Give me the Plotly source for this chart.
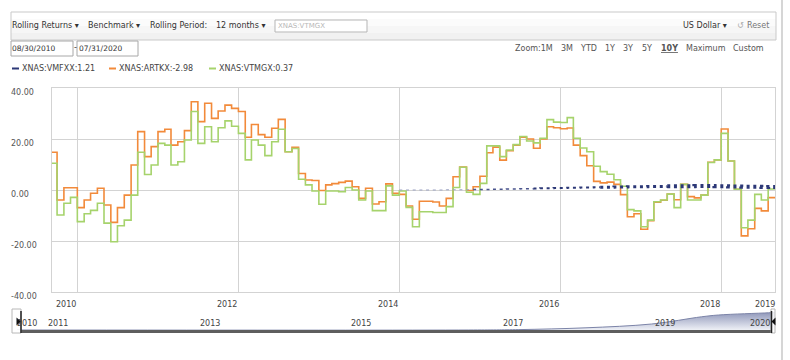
import plotly.graph_objects as go
import pandas as pd

W, H = 790, 360
FONT = "DejaVu Sans"
ORANGE = "#f28a3a"
GREEN = "#a6d36c"
NAVY = "#2c3877"
GRID = "#d3d3d3"
TXT = "#444444"

# ---------------- data ----------------
months = pd.date_range("2011-08-31", periods=108, freq=pd.offsets.MonthEnd())

artkx = [14.8, -3.9, 0.9, 0.9, -6.9, -3.9, -1.3, 0.7, -5.9, -12.7,
         -6.9, -2.0, 9.8, 22.9, 13.1, 17.0, 22.9, 23.8, 17.6, 18.9,
         23.3, 34.6, 26.8, 34.0, 28.1, 31.0, 33.3, 32.0, 30.8, 20.7,
         25.7, 21.7, 20.7, 24.2, 27.7, 15.0, 16.7, 6.5, 3.9, 3.7,
         -0.2, 2.0, 2.5, 3.0, 3.5, 1.3, -3.3, 0.7, -5.5, -4.6,
         2.4, -1.3, -1.7, -6.3, -11.5, -4.4, -4.4, -4.7, -6.3, -3.3,
         5.2, 9.0, -0.2, 1.3, 5.4, 14.6, 16.8, 11.7, 15.4, 17.6,
         20.7, 20.0, 16.4, 20.0, 24.8, 24.4, 24.0, 24.3, 17.6, 13.5,
         9.5, 3.4, 2.8, 3.1, 2.2, -1.8, -10.5, -9.3, -15.4, -12.0,
         -4.8, -4.0, -1.6, -3.8, 2.2, -2.6, -3.1, -2.0, 10.9, 11.8,
         23.9, 11.4, 0.3, -18.0, -15.2, -7.2, -8.2, -2.98]

vtmgx = [10.5, -9.8, -5.2, -2.9, -12.4, -9.3, -8.0, -5.2, -13.0, -20.3,
         -14.0, -11.8, -2.0, 14.8, 6.1, 9.8, 18.3, 17.6, 9.8, 11.1,
         19.6, 30.8, 18.3, 24.8, 18.9, 24.4, 27.1, 25.0, 22.2, 11.8,
         19.6, 17.6, 13.5, 18.9, 23.8, 15.0, 16.3, 4.2, 2.0, -0.4,
         -5.6, -0.4, -0.4, -0.7, 1.0, 0.0, -3.9, -0.4, -8.1, -8.1,
         1.6, -2.0, -0.4, -6.8, -14.4, -8.5, -8.5, -8.8, -8.8, -6.5,
         1.0, 8.9, -0.9, -1.7, 2.6, 17.3, 17.3, 13.1, 15.7, 17.8,
         21.0, 19.2, 18.5, 20.3, 27.6, 26.6, 26.5, 28.4, 20.3, 16.5,
         15.0, 9.3, 7.2, 6.2, 4.0, 1.5, -7.7, -8.2, -14.4, -11.8,
         -4.6, -3.9, -1.6, -6.9, 2.2, -3.9, -3.9, -2.0, 10.8, 11.8,
         22.2, 11.4, 0.3, -14.8, -11.8, -1.7, -3.9, 0.37]

vmfxx_start = 52  # first month with a VMFXX value (Dec 2015)
vmfxx = [0.0, 0.0, 0.0, 0.0, 0.0, 0.0, 0.0, 0.1,
         0.1, 0.1, 0.1, 0.2, 0.2, 0.2, 0.3, 0.3,
         0.4, 0.4, 0.5, 0.5, 0.6, 0.7, 0.7, 0.8,
         0.8, 0.9, 0.9, 1.0, 1.0, 1.1, 1.1, 1.1,
         1.2, 1.2, 1.3, 1.3, 1.3, 1.4, 1.4, 1.4,
         1.5, 1.5, 1.5, 1.5, 1.6, 1.6, 1.6, 1.5,
         1.5, 1.4, 1.4, 1.3, 1.3, 1.3, 1.2, 1.21]

grid_dates = ["2012-01-01", "2014-01-01", "2016-01-01", "2018-01-01", "2020-01-01"]
year_labels = ["2010", "2012", "2014", "2016", "2018", "2019"]
year_label_dates = ["2011-11-09", "2013-11-09", "2015-11-10", "2017-11-10", "2019-11-11", "2020-07-17"]
y_ticks = [40, 20, 0, -20, -40]

nav_dates = ["2010-06-18", "2016-06-01", "2017-01-28", "2017-12-17", "2018-10-29",
             "2019-06-26", "2019-09-16", "2020-05-13", "2020-06-14"]
nav_values = [0, 0, 2, 11, 30, 66, 75, 86, 88]
nav_labels = ["2010", "2011", "2013", "2015", "2017", "2019", "2020"]
nav_label_dates = ["2010-08-05", "2011-01-01", "2013-01-01", "2015-01-01",
                   "2017-01-01", "2019-01-01", "2020-04-03"]

legend_names = ["XNAS:VMFXX:1.21", "XNAS:ARTKX:-2.98", "XNAS:VTMGX:0.37"]
legend_colors = [NAVY, ORANGE, GREEN]

# ---------------- helpers ----------------
def fx(px):
    return px / W


def fy(py):
    return 1 - py / H


x_ext = list(months) + [pd.Timestamp("2020-08-31")]
art_ext = artkx + [artkx[-1]]
vtm_ext = vtmgx + [vtmgx[-1]]
vm_full = [None] * vmfxx_start + vmfxx + [vmfxx[-1]]

fig = go.Figure()

fig.add_trace(go.Scatter(x=x_ext, y=art_ext, mode="lines", line_shape="hv",
                         line=dict(color=ORANGE, width=1.6), name=legend_names[1],
                         showlegend=False))
fig.add_trace(go.Scatter(x=x_ext, y=vtm_ext, mode="lines", line_shape="hv",
                         line=dict(color=GREEN, width=1.6), name=legend_names[2],
                         showlegend=False))

segments = [(52, 63, "#9aa1c2", 1.0), (63, 72, "#4a548d", 1.4), (72, 82, NAVY, 2.0),
            (82, 92, NAVY, 3.0), (92, 108, NAVY, 4.0)]
for a, b, col, wd in segments:
    fig.add_trace(go.Scatter(x=x_ext[a:b + 1], y=vm_full[a:b + 1], mode="lines",
                             line_shape="hv",
                             line=dict(color=col, width=wd, dash="3px,3.7px"),
                             name=legend_names[0], showlegend=False))

# navigator
fig.add_trace(go.Scatter(x=nav_dates, y=nav_values, xaxis="x3", yaxis="y3",
                         mode="lines", line_shape="spline",
                         line=dict(color="#7c84a8", width=1),
                         fill="tozeroy",
                         fillgradient=dict(type="vertical", start=0, stop=90,
                                           colorscale=[[0, "#eef0f6"], [1, "#8e96b9"]]),
                         showlegend=False, hoverinfo="skip"))

shapes = []
annotations = []


def rect(x0, y0, x1, y1, fill=None, line=None, lw=1, layer="above"):
    shapes.append(dict(type="rect", xref="paper", yref="paper",
                       x0=fx(x0), x1=fx(x1), y0=fy(y0), y1=fy(y1),
                       fillcolor=fill if fill else "rgba(0,0,0,0)",
                       line=dict(color=line if line else "rgba(0,0,0,0)", width=lw if line else 0),
                       layer=layer))


def text(px, py, s, size=8, color=TXT, anchor="left"):
    annotations.append(dict(xref="paper", yref="paper", x=fx(px), y=fy(py), text=s,
                            showarrow=False, xanchor=anchor, yanchor="middle",
                            font=dict(family=FONT, size=size, color=color)))


# toolbar
for i, c in enumerate(["#ffffff", "#fbfbfb", "#f6f6f6", "#f1f1f1"]):
    rect(11, 12 + i * 7, 776, 19 + i * 7, fill=c, layer="below")
rect(11, 12, 776, 40, line="#c9c9c9")
text(10, 25.5, "Rolling Returns ▾", color="#333")
text(86, 25.5, "Benchmark ▾", color="#333")
text(148, 25.5, "Rolling Period:", color="#333")
text(214, 25.5, "12 months ▾", color="#333")
rect(275, 20, 367, 32, fill="white", line="#b5b5b5")
text(276, 26, "XNAS:VTMGX", size=7, color="#b8b8b8")
text(681, 25.5, "US Dollar ▾", color="#333")
text(735, 25.5, "↺", color="#aaaaaa")
text(745, 25.5, "Reset", color="#777")

# date row
rect(11, 41, 73, 56, fill="white", line="#a8a8a8")
rect(77, 41, 138, 56, fill="white", line="#a8a8a8")
text(10, 49, "08/30/2010", size=7.5, color="#333")
text(72, 48, "-", size=8, color="#333")
text(77, 49, "07/31/2020", size=7.5, color="#333")
zoom_items = [("Zoom:1M", 513), ("3M", 559), ("YTD", 578), ("1Y", 603), ("3Y", 621),
              ("5Y", 640), ("<b><u>10Y</u></b>", 659), ("Maximum", 684), ("Custom", 731)]
for s, px in zoom_items:
    text(px, 48.5, s, color="#555")

# legend row
leg_x = [12, 109, 209]
for name, col, px in zip(legend_names, legend_colors, leg_x):
    rect(px, 67.5, px + 7, 69.5, fill=col)
    text(px + 8, 68.5, name, color="#444")

# y labels (left aligned)
for v in y_ticks:
    annotations.append(dict(xref="paper", yref="y", x=fx(9), y=v, yshift=-4,
                            text=f"{v:.2f}", showarrow=False, xanchor="left",
                            yanchor="middle", font=dict(family=FONT, size=8, color="#555")))

# x labels
for s, d in zip(year_labels, year_label_dates):
    annotations.append(dict(xref="x", yref="paper", x=d, y=fy(304), text=s,
                            showarrow=False, xanchor="center", yanchor="middle",
                            font=dict(family=FONT, size=8, color="#444")))

# navigator labels
for s, d in zip(nav_labels, nav_label_dates):
    annotations.append(dict(xref="x3", yref="paper", x=d, y=fy(323), text=s,
                            showarrow=False, xanchor="center", yanchor="middle",
                            font=dict(family=FONT, size=8, color="#444")))

# navigator furniture
rect(21, 330, 772, 333, fill="#5e5e5e")
rect(12, 309, 21, 333, fill="rgba(255,255,255,0.85)", line="#b8b8b8")
rect(771, 309, 775, 333, fill="rgba(255,255,255,0.85)", line="#b8b8b8")
shapes.append(dict(type="line", xref="paper", yref="paper", x0=fx(21), x1=fx(21),
                   y0=fy(311), y1=fy(333), line=dict(color="#222", width=1.5), layer="above"))
shapes.append(dict(type="line", xref="paper", yref="paper", x0=fx(771.5), x1=fx(771.5),
                   y0=fy(311), y1=fy(333), line=dict(color="#222", width=1.5), layer="above"))
shapes.append(dict(type="path", xref="paper", yref="paper",
                   path=f"M {fx(16.5)},{fy(317.5)} L {fx(21)},{fy(321.5)} L {fx(16.5)},{fy(325.5)} Z",
                   fillcolor="#111", line=dict(width=0), layer="above"))
shapes.append(dict(type="path", xref="paper", yref="paper",
                   path=f"M {fx(775.5)},{fy(317.5)} L {fx(771.5)},{fy(321.5)} L {fx(775.5)},{fy(325.5)} Z",
                   fillcolor="#111", line=dict(width=0), layer="above"))

# outer right border
shapes.append(dict(type="line", xref="paper", yref="paper", x0=fx(782), x1=fx(782),
                   y0=0, y1=1, line=dict(color="#d6d6d6", width=2), layer="above"))

fig.update_layout(
    width=W, height=H, autosize=False,
    margin=dict(l=0, r=0, t=0, b=0),
    paper_bgcolor="white", plot_bgcolor="white",
    font=dict(family=FONT, size=8, color=TXT),
    showlegend=False,
    hovermode=False,
    xaxis=dict(type="date", domain=[fx(52), fx(775)], range=["2011-09-07", "2020-08-31"],
               tickvals=grid_dates, showticklabels=False, ticks="",
               showgrid=True, gridcolor=GRID, gridwidth=1, zeroline=False,
               showline=True, mirror=True, linecolor=GRID, linewidth=1, anchor="y"),
    yaxis=dict(domain=[fy(292), fy(88)], range=[-40, 40], tickvals=y_ticks,
               showticklabels=False, ticks="", showgrid=True, gridcolor=GRID, gridwidth=1,
               zeroline=False, showline=True, mirror=True, linecolor=GRID, linewidth=1,
               anchor="x"),
    xaxis3=dict(type="date", domain=[fx(17), fx(775)], range=["2010-06-18", "2020-06-14"],
                showticklabels=False, showgrid=False, zeroline=False, showline=False,
                ticks="", anchor="y3"),
    yaxis3=dict(domain=[fy(330), fy(310)], range=[0, 100], showticklabels=False,
                showgrid=False, zeroline=False, showline=False, ticks="", anchor="x3"),
    shapes=shapes,
    annotations=annotations,
)

fig.write_html("out.html")
